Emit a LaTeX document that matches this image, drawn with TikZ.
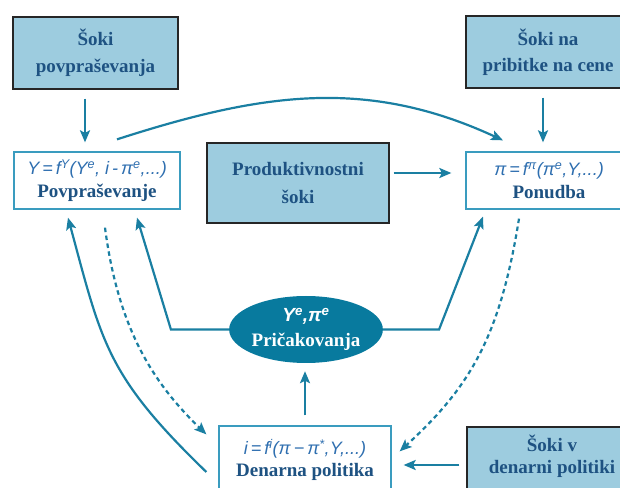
\documentclass[tikz,border=0pt]{standalone}
\usepackage{fontspec}
\setmainfont{Liberation Serif}
\newfontfamily\formfont{Liberation Sans}
\usetikzlibrary{arrows.meta,positioning,calc,shapes.geometric}
\definecolor{shockBlue}{HTML}{9DCCDF}
\definecolor{lineTeal}{HTML}{1A7FA2}
\definecolor{boxTeal}{HTML}{3A9CBF}
\definecolor{headInk}{HTML}{1E5282}
\definecolor{formInk}{HTML}{2F6FB0}
\definecolor{expTeal}{HTML}{087A9E}
\newcommand{\eqline}[1]{{\formfont\itshape\mdseries\fontsize{18}{23}\selectfont\color{formInk}#1}}
\begin{document}
\begin{tikzpicture}[x=1pt,y=1pt,
  shockbox/.style={draw=black!85,line width=1.3pt,fill=shockBlue,align=center,inner sep=0pt,
    font=\fontsize{19}{27}\selectfont\bfseries,text=headInk},
  eqbox/.style={draw=boxTeal,line width=1.3pt,fill=white,align=center,inner sep=0pt,
    font=\fontsize{19}{23}\selectfont\bfseries,text=headInk},
  arr/.style={-{Stealth[length=12pt,width=10pt,inset=2.5pt]},draw=lineTeal,line width=2.2pt},
  dotarr/.style={arr,dash pattern=on 4.5pt off 3.5pt}]
\useasboundingbox (0,0) rectangle (620,487);
\clip (0,0) rectangle (620,487);
% shocks
\node[shockbox,minimum width=165pt,minimum height=72pt] (dshock) at (95.5,434) {Šoki\\povpraševanja};
\node[shockbox,minimum width=164pt,minimum height=72pt,font=\fontsize{19}{26}\selectfont\bfseries] (pshock) at (548,435) {Šoki na\\pribitke na cene};
\node[shockbox,minimum width=182pt,minimum height=80pt,font=\fontsize{19}{28}\selectfont\bfseries] (prod) at (298,304) {Produktivnostni\\šoki};
\node[shockbox,minimum width=170pt,minimum height=68pt,font=\fontsize{19}{22}\selectfont\bfseries,text depth=14pt] (mshock) at (552,26) {Šoki v\\denarni politiki};
% relations
\node[eqbox,minimum width=166pt,minimum height=57pt] (demand) at (97,306.5)
  {\eqline{Y\,=\,f\textsuperscript{Y}(Y\textsuperscript{e}, i\,-\,π\textsuperscript{e},...)}\\Povpraševanje};
\node[eqbox,minimum width=166pt,minimum height=57pt] (supply) at (549,306.5)
  {\eqline{π\,=\,f\textsuperscript{π}(π\textsuperscript{e},Y,...)}\\Ponudba};
\node[eqbox,minimum width=172pt,minimum height=68pt,font=\fontsize{19}{22}\selectfont\bfseries] (policy) at (305,27)
  {\eqline{i\,=\,f\textsuperscript{i}(π\,−\,π\textsuperscript{*},Y,...)}\\Denarna politika};
% expectations
\node[ellipse,fill=expTeal,minimum width=152pt,minimum height=67pt,inner sep=0pt,align=center,
  text=white,font=\fontsize{19}{25}\selectfont\bfseries] (expect) at (306,157.5)
  {{\formfont\itshape Y\textsuperscript{e},π\textsuperscript{e}}\\Pričakovanja};
% arrows
\draw[arr,shorten <=9pt,shorten >=9pt] ([xshift=-10.5pt]dshock.south) -- ([xshift=-10.5pt]dshock.south |- demand.north);
\draw[arr,shorten <=9pt,shorten >=9pt] ([xshift=-5pt]pshock.south) -- ([xshift=-5pt]pshock.south |- supply.north);
\draw[arr] ([shift={(20,12)}]demand.north) .. controls (261,394) and (366,410) .. ([shift={(-46,11)}]supply.north);
\draw[arr,shorten <=4pt,shorten >=14pt] ([yshift=10pt]prod.east) -- ([yshift=10pt]prod.east -| supply.west);
\draw[arr] (expect.west) -- ++(-58,0) -- ([shift={(40,-8)}]demand.south);
\draw[arr] (expect.east) -- ++(56,0) -- ([shift={(-66,-7)}]supply.south);
\draw[arr,shorten <=10pt,shorten >=8pt] (policy.north) -- (policy.north |- expect.south);
\draw[arr,shorten <=7pt,shorten >=12pt] ([yshift=-4pt]mshock.west) -- ([yshift=-4pt]mshock.west -| policy.east);
\draw[arr] ([shift={(-12,-12)}]policy.west) .. controls (106,112) and (102,144) .. ([shift={(-29,-8)}]demand.south);
\draw[dotarr] ([shift={(8,-18)}]demand.south) .. controls (118,160) and (152,105) .. ([shift={(-12,-9)}]policy.north west);
\draw[dotarr] ([shift={(-30,-9)}]supply.south) .. controls (500,150) and (470,100) .. ([shift={(8,-26)}]policy.north east);
\end{tikzpicture}
\end{document}
